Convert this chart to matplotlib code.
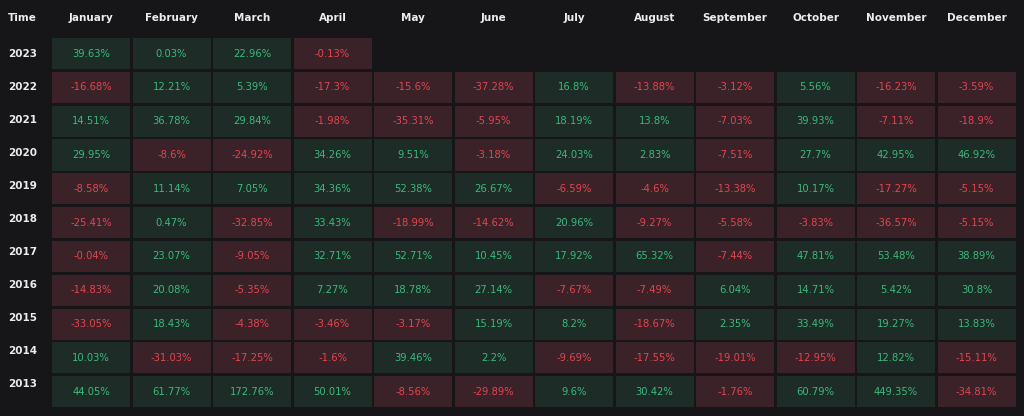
import matplotlib.pyplot as plt
from matplotlib.patches import Rectangle

months = ['January', 'February', 'March', 'April', 'May', 'June', 'July',
          'August', 'September', 'October', 'November', 'December']
years = ['2023', '2022', '2021', '2020', '2019', '2018', '2017', '2016',
         '2015', '2014', '2013']

r2023 = [39.63, 0.03, 22.96, -0.13]
r2022 = [-16.68, 12.21, 5.39, -17.3, -15.6, -37.28, 16.8, -13.88, -3.12, 5.56, -16.23, -3.59]
r2021 = [14.51, 36.78, 29.84, -1.98, -35.31, -5.95, 18.19, 13.8, -7.03, 39.93, -7.11, -18.9]
r2020 = [29.95, -8.6, -24.92, 34.26, 9.51, -3.18, 24.03, 2.83, -7.51, 27.7, 42.95, 46.92]
r2019 = [-8.58, 11.14, 7.05, 34.36, 52.38, 26.67, -6.59, -4.6, -13.38, 10.17, -17.27, -5.15]
r2018 = [-25.41, 0.47, -32.85, 33.43, -18.99, -14.62, 20.96, -9.27, -5.58, -3.83, -36.57, -5.15]
r2017 = [-0.04, 23.07, -9.05, 32.71, 52.71, 10.45, 17.92, 65.32, -7.44, 47.81, 53.48, 38.89]
r2016 = [-14.83, 20.08, -5.35, 7.27, 18.78, 27.14, -7.67, -7.49, 6.04, 14.71, 5.42, 30.8]
r2015 = [-33.05, 18.43, -4.38, -3.46, -3.17, 15.19, 8.2, -18.67, 2.35, 33.49, 19.27, 13.83]
r2014 = [10.03, -31.03, -17.25, -1.6, 39.46, 2.2, -9.69, -17.55, -19.01, -12.95, 12.82, -15.11]
r2013 = [44.05, 61.77, 172.76, 50.01, -8.56, -29.89, 9.6, 30.42, -1.76, 60.79, 449.35, -34.81]

rows = [r2023, r2022, r2021, r2020, r2019, r2018, r2017, r2016, r2015, r2014, r2013]

bg = '#161619'
cell_up = '#1d2c27'
cell_down = '#3a2228'
txt_up = '#3cb97c'
txt_down = '#e2464f'

fig = plt.figure(figsize=(10.24, 4.16), dpi=100, facecolor=bg)
ax = fig.add_axes([52 / 1024, 1 - 410 / 416, 966 / 1024, 372 / 416])
ax.set_facecolor(bg)
ax.set_xlim(0, 12)
ax.set_ylim(11, 0)
ax.axis('off')

gx, gy = 0.03, 0.08
for i, vals in enumerate(rows):
    for j, v in enumerate(vals):
        up = v >= 0
        ax.add_patch(Rectangle((j, i), 1 - gx, 1 - gy,
                               facecolor=cell_up if up else cell_down, edgecolor='none'))
        ax.text(j + (1 - gx) / 2, i + (1 - gy) / 2, f'{v:g}%', ha='center', va='center',
                color=txt_up if up else txt_down, fontsize=7.2)
    ax.text(-0.37, i + 0.48 - 0.025 * i, years[i], ha='center', va='center',
            color='#eaecef', fontsize=7.5, fontweight='bold', clip_on=False)

for j, m in enumerate(months):
    ax.text(j + (1 - gx) / 2, -0.6, m, ha='center', va='center',
            color='#eaecef', fontsize=7.5, fontweight='bold', clip_on=False)
ax.text(-0.37, -0.6, 'Time', ha='center', va='center',
        color='#eaecef', fontsize=7.5, fontweight='bold', clip_on=False)

fig.savefig('out.png', dpi=100, facecolor=bg)
